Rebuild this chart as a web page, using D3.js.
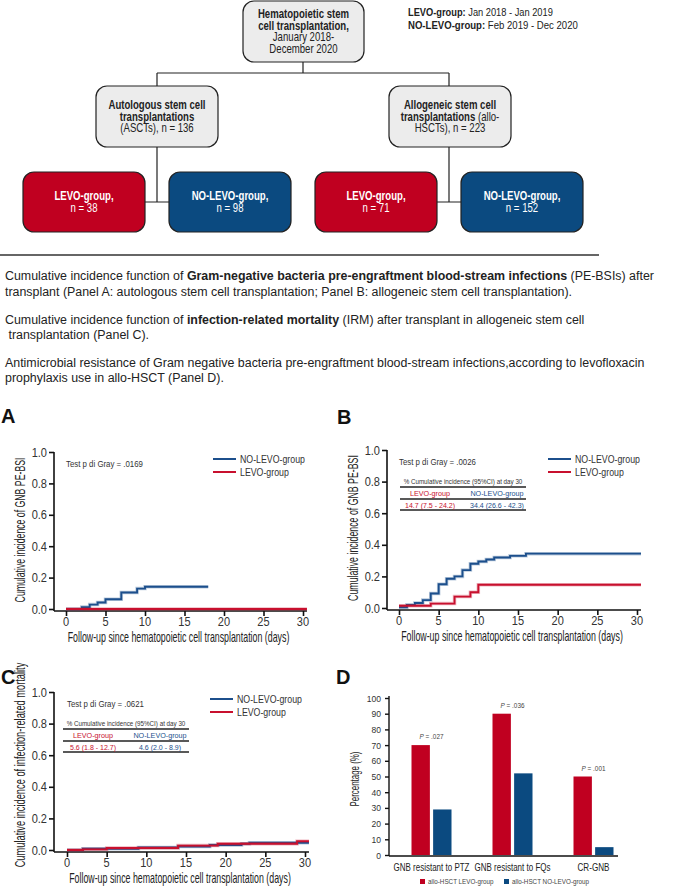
<!DOCTYPE html>
<html>
<head>
<meta charset="utf-8">
<script src="https://cdn.jsdelivr.net/npm/d3@7"></script>
<style>
  body { margin: 0; background: #fff; }
  svg { display: block; }
  text { font-family: "Liberation Sans", Arial, sans-serif; fill: #222; }
</style>
</head>
<body>
<div id="chart"></div>
<script>
// colours
var RED = "#c8102e", BLUE = "#1c4f8c", RED_BOX = "#c00020", BLUE_BOX = "#0b4a80";

// curves, [day, cumulative incidence]
var aNoLevo = [[0,0],[2,0.012],[3,0.028],[4,0.041],[5,0.062],[7,0.105],[9,0.13],[10,0.142],[18,0.142]];
var aLevo = [[0,0],[30.5,0]];
var bNoLevo = [[0,0.005],[1,0.02],[2,0.032],[3,0.05],[4,0.092],[5,0.15],[6,0.185],[7,0.2],[8,0.24],[9,0.28],[10,0.294],[11,0.307],[12,0.32],[14,0.33],[16,0.344],[30.5,0.344]];
var bLevo = [[0,0.014],[4,0.028],[7,0.072],[9,0.1],[10,0.147],[30.5,0.147]];
var cNoLevo = [[0,0],[2,0.008],[9,0.016],[14,0.022],[18,0.032],[22,0.04],[23,0.046],[30.5,0.046]];
var cLevo = [[0,0],[2,0.004],[5,0.013],[14,0.028],[19,0.04],[29,0.056],[30.5,0.056]];

var xTicks = [0,5,10,15,20,25,30];
var yTicks = [0,0.2,0.4,0.6,0.8,1.0];

// panel D
var categories = ["GNB resistant to PTZ","GNB resistant to FQs","CR-GNB"];
var catWidths = [76, 76, 32];
var levoPct = [70,90,50];
var noLevoPct = [29,52,5];
var pLabels = [".027",".036",".001"];
var pctTicks = [0,10,20,30,40,50,60,70,80,90,100];

var svg = d3.select("#chart").append("svg")
  .attr("width", 674).attr("height", 886);

// text squeezed horizontally (the figure uses a condensed face)
// segs: [[string, bold, italic], ...]
function ctext(parent, x, y, segs, o) {
  o = o || {};
  var g = parent.append("g").attr("transform", "translate(" + x + "," + y + ")" + (o.rot ? " rotate(-90)" : ""));
  var t = g.append("text").attr("text-anchor", o.anchor || "start")
    .style("font-size", (o.size || 12) + "px").style("fill", o.fill || "#222")
    .attr("xml:space", "preserve");
  segs.forEach(function(s) {
    var ts = t.append("tspan").text(s[0]).style("font-weight", s[1] ? "bold" : "normal");
    if (s[2]) ts.style("font-style", "italic");
  });
  var sx = o.sx || 0.82;
  if (o.w) sx = o.w / t.node().getComputedTextLength();
  t.attr("transform", "scale(" + sx + ",1)");
  return t;
}

// ---------- flowchart ----------
var fc = svg.append("g");
function box(x, y, w, h, fill, lines, col) {
  fc.append("rect").attr("x", x).attr("y", y).attr("width", w).attr("height", h)
    .attr("rx", 11).attr("fill", fill).attr("stroke", "#222").attr("stroke-width", 1.2);
  var y0 = y + h / 2 - (lines.length - 1) * 5.75 + 4;
  lines.forEach(function(l, i) {
    ctext(fc, x + w / 2, y0 + i * 11.5, l, {anchor: "middle", size: 12, sx: 0.8, fill: col});
  });
}
var conn = "M303,62V73M157,73H449M157,73V86M449,73V86M157,147V202M145,202H169M449,147V202M437,202H461";
fc.append("path").attr("d", conn).attr("fill", "none").attr("stroke", "#222").attr("stroke-width", 1.2);

box(243, 1, 121, 61, "#ececec", [[["Hematopoietic stem",1]],[["cell transplantation,",1]],[["January 2018-",0]],[["December 2020",0]]], "#222");
box(96, 86, 122, 61, "#ececec", [[["Autologous stem cell",1]],[["transplantations",1]],[["(ASCTs), n = 136",0]]], "#222");
box(389, 86, 122, 61, "#ececec", [[["Allogeneic stem cell",1]],[["transplantations",1],[" (allo-",0]],[["HSCTs), n = 223",0]]], "#222");
box(23, 172, 122, 60, RED_BOX, [[["LEVO-group,",1]],[["n = 38",0]]], "#fff");
box(169, 172, 122, 60, BLUE_BOX, [[["NO-LEVO-group,",1]],[["n = 98",0]]], "#fff");
box(315, 172, 122, 60, RED_BOX, [[["LEVO-group,",1]],[["n = 71",0]]], "#fff");
box(461, 172, 122, 60, BLUE_BOX, [[["NO-LEVO-group,",1]],[["n = 152",0]]], "#fff");

ctext(svg, 408, 16, [["LEVO-group:",1],[" Jan 2018 - Jan 2019",0]], {size: 11.5, w: 145});
ctext(svg, 408, 29, [["NO-LEVO-group:",1],[" Feb 2019 - Dec 2020",0]], {size: 11.5, w: 170});

// rule
svg.append("line").attr("x1", 0).attr("x2", 599).attr("y1", 255).attr("y2", 255)
  .attr("stroke", "#333").attr("stroke-width", 1.3);

// ---------- caption ----------
var capLines = [
  [["Cumulative incidence function of ",0],["Gram-negative bacteria pre-engraftment blood-stream infections",1],[" (PE-BSIs) after",0]],
  [["transplant (Panel A: autologous stem cell transplantation; Panel B: allogeneic stem cell transplantation).",0]],
  [["Cumulative incidence function of ",0],["infection-related mortality",1],[" (IRM) after transplant in allogeneic stem cell",0]],
  [[" transplantation (Panel C).",0]],
  [["Antimicrobial resistance of Gram negative bacteria pre-engraftment blood-stream infections,according to levofloxacin",0]],
  [["prophylaxis use in allo-HSCT (Panel D).",0]]
];
var capY = [280, 296, 324, 339, 367, 382];
var probe = ctext(svg, 5, capY[4], capLines[4], {size: 13.5, w: 639});
var capSx = 639 / probe.node().getComputedTextLength();
probe.node().parentNode.remove();
capLines.forEach(function(l, i) {
  ctext(svg, 5, capY[i], l, {size: 13.5, sx: capSx, fill: "#222"});
});

// ---------- curve panels ----------
function curvePanel(o) {
  var g = svg.append("g");
  var x = d3.scaleLinear().domain([0, 30]).range([o.x0, o.x30]);
  var y = d3.scaleLinear().domain([0, 1]).range([o.y0, o.y1]);

  g.append("text").attr("x", o.lx).attr("y", o.ly).text(o.letter)
    .style("font-size", "20px").style("font-weight", "bold").style("fill", "#111");

  var ya = g.append("g").attr("transform", "translate(" + o.ax + ",0)")
    .call(d3.axisLeft(y).tickValues(yTicks).tickFormat(d3.format(".1f")).tickSize(5).tickSizeOuter(0));
  ya.select(".domain").attr("d", "M0," + y(1) + "V" + (y(0) + 2));
  var xa = g.append("g").attr("transform", "translate(0," + (y(0) + 2) + ")")
    .call(d3.axisBottom(x).tickValues(xTicks).tickSize(5).tickSizeOuter(0));
  xa.select(".domain").attr("d", "M" + o.ax + ",0H" + x(30.5));
  [ya, xa].forEach(function(a) {
    a.selectAll(".domain, line").attr("stroke", "#111").attr("stroke-width", 1.6);
    a.selectAll("text").remove();
  });
  yTicks.forEach(function(v) {
    ctext(g, o.ax - 7, y(v) + 4.5, [[d3.format(".1f")(v),0]], {anchor: "end", size: 13, sx: 0.85, fill: "#333"});
  });
  xTicks.forEach(function(v) {
    ctext(g, x(v), y(0) + 17, [[String(v),0]], {anchor: "middle", size: 12, sx: 0.92, fill: "#333"});
  });

  ctext(g, x(15) - 6, y(0) + 33, [["Follow-up since hematopoietic cell transplantation (days)",0]],
    {anchor: "middle", size: 14, w: 222});
  ctext(g, o.ax - 29, o.ylabY, [[o.ylab,0]], {anchor: "middle", size: 14.5, w: o.ylabW, rot: true});

  var line = d3.line().x(function(d) { return x(d[0]); }).y(function(d) { return y(d[1]); })
    .curve(d3.curveStepAfter);
  [[o.noLevo, BLUE], [o.levo, RED]].forEach(function(s) {
    g.append("path").datum(s[0]).attr("d", line).attr("fill", "none")
      .attr("stroke", s[1]).attr("stroke-opacity", 0.3).attr("stroke-width", 3.5);
    g.append("path").datum(s[0]).attr("d", line).attr("fill", "none")
      .attr("stroke", s[1]).attr("stroke-width", 1.9);
  });

  ctext(g, x(0), y(1) + 15, [["Test p di Gray = " + o.p,0]], {size: 9, w: 77, fill: "#333"});

  [["NO-LEVO-group", BLUE], ["LEVO-group", RED]].forEach(function(l, i) {
    var ly = o.legY + i * 13;
    g.append("line").attr("x1", o.legX).attr("x2", o.legX + 23).attr("y1", ly).attr("y2", ly)
      .attr("stroke", l[1]).attr("stroke-width", 2);
    ctext(g, o.legX + 27, ly + 3.5, [[l[0],0]], {size: 10, sx: 0.88, fill: "#333"});
  });

  if (o.table) {
    var tx0 = o.tx0, tx1 = tx0 + 126, ty = y(1);
    ctext(g, (tx0 + tx1) / 2, ty + 33.5, [["% Cumulative incidence (95%CI) at day 30",0]],
      {anchor: "middle", size: 7.5, w: 119, fill: "#333"});
    [37, 49, 60].forEach(function(dy) {
      g.append("line").attr("x1", tx0).attr("x2", tx1).attr("y1", ty + dy).attr("y2", ty + dy)
        .attr("stroke", "#222").attr("stroke-width", 1.3);
    });
    var cols = [tx0 + 30, tx0 + 97];
    [["LEVO-group", RED], ["NO-LEVO-group", BLUE]].forEach(function(h, i) {
      ctext(g, cols[i], ty + 45.5, [[h[0],0]], {anchor: "middle", size: 8, sx: 0.9, fill: h[1]});
      ctext(g, cols[i], ty + 57.5, [[o.table[i],0]], {anchor: "middle", size: 8, sx: 0.88, fill: h[1]});
    });
  }
}

curvePanel({letter: "A", lx: 1, ly: 423, x0: 66, x30: 303, y0: 609, y1: 452, ax: 54,
  noLevo: aNoLevo, levo: aLevo, p: ".0169", legX: 213, legY: 459,
  ylab: "Cumulative incidence of GNB PE-BSI", ylabY: 530, ylabW: 145});
curvePanel({letter: "B", lx: 337, ly: 424, x0: 399, x30: 637, y0: 608, y1: 450, ax: 387,
  noLevo: bNoLevo, levo: bLevo, p: ".0026", legX: 548, legY: 459,
  ylab: "Cumulative incidence of GNB PE-BSI", ylabY: 528, ylabW: 146,
  tx0: 400, table: ["14.7 (7.5 - 24.2)", "34.4 (26.6 - 42.3)"]});
curvePanel({letter: "C", lx: 1, ly: 684, x0: 67, x30: 305, y0: 850, y1: 692, ax: 54,
  noLevo: cNoLevo, levo: cLevo, p: ".0621", legX: 210, legY: 699,
  ylab: "Cumulative incidence of infection-related mortality", ylabY: 765, ylabW: 205,
  tx0: 63, table: ["5.6 (1.8 - 12.7)", "4.6 (2.0 - 8.9)"]});

// ---------- panel D ----------
var gd = svg.append("g");
gd.append("text").attr("x", 336).attr("y", 684).text("D")
  .style("font-size", "20px").style("font-weight", "bold").style("fill", "#111");
var yD = d3.scaleLinear().domain([0, 100]).range([855, 698]);
var xD = d3.scaleBand().domain(categories).range([391, 634]);
var xIn = d3.scaleBand().domain(["levo", "noLevo"]).range([0, 40]).paddingInner(0.15);

var yDa = gd.append("g").attr("transform", "translate(389,0)")
  .call(d3.axisLeft(yD).tickValues(pctTicks).tickSize(4).tickSizeOuter(0));
yDa.select(".domain").attr("d", "M0," + (yD(100) - 2) + "V" + (yD(0) + 1));
yDa.selectAll(".domain, line").attr("stroke", "#111").attr("stroke-width", 1.4);
yDa.selectAll("text").remove();
pctTicks.forEach(function(v) {
  ctext(gd, 381, yD(v) + 3.5, [[String(v),0]], {anchor: "end", size: 9.5, sx: 0.9, fill: "#333"});
});
gd.append("line").attr("x1", 389).attr("x2", 618).attr("y1", yD(0) + 1).attr("y2", yD(0) + 1)
  .attr("stroke", "#111").attr("stroke-width", 1.4);

categories.forEach(function(c, i) {
  var x0 = xD(c) + xD.bandwidth() / 2 - 20;
  [["levo", levoPct[i], RED_BOX], ["noLevo", noLevoPct[i], BLUE_BOX]].forEach(function(s) {
    gd.append("rect").attr("x", x0 + xIn(s[0])).attr("width", xIn.bandwidth())
      .attr("y", yD(s[1])).attr("height", yD(0) - yD(s[1])).attr("fill", s[2]);
  });
  ctext(gd, x0 + 20, yD(levoPct[i]) - 6, [["P",0,1],[" = " + pLabels[i],0]],
    {anchor: "middle", size: 7.5, w: 24, fill: "#444"});
  ctext(gd, x0 + 20, 871, [[c,0]], {anchor: "middle", size: 10.5, w: catWidths[i], fill: "#222"});
});
ctext(gd, 359, 779, [["Percentage (%)",0]], {anchor: "middle", size: 13.5, w: 55, rot: true});

[["allo-HSCT LEVO-group", RED_BOX, 420], ["allo-HSCT NO-LEVO-group", BLUE_BOX, 504]].forEach(function(l) {
  gd.append("rect").attr("x", l[2]).attr("y", 879).attr("width", 5).attr("height", 5).attr("fill", l[1]);
  ctext(gd, l[2] + 8, 884, [[l[0],0]], {size: 7, sx: 0.9, fill: "#444"});
});
</script>
</body>
</html>
